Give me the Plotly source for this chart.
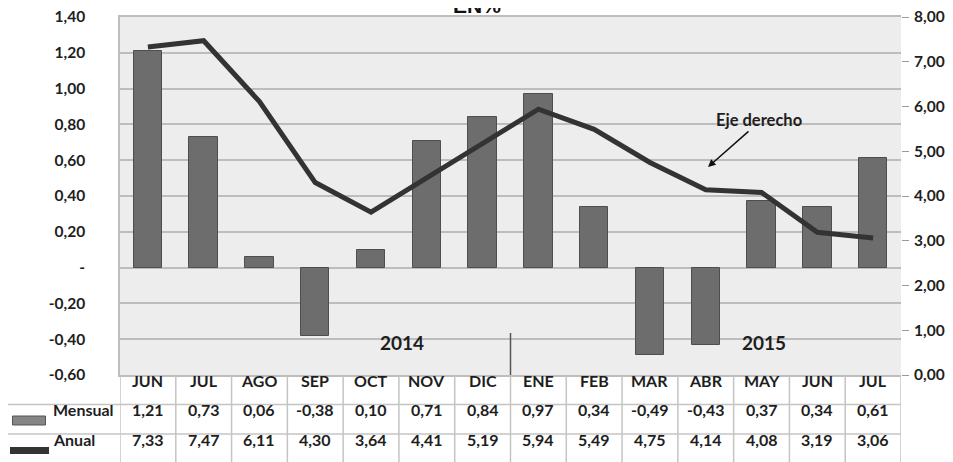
import plotly.graph_objects as go

# ---- data ----
months = ["JUN", "JUL", "AGO", "SEP", "OCT", "NOV", "DIC",
          "ENE", "FEB", "MAR", "ABR", "MAY", "JUN", "JUL"]
mensual = [1.21, 0.73, 0.06, -0.38, 0.10, 0.71, 0.84,
           0.97, 0.34, -0.49, -0.43, 0.37, 0.34, 0.61]
anual = [7.33, 7.47, 6.11, 4.30, 3.64, 4.41, 5.19,
         5.94, 5.49, 4.75, 4.14, 4.08, 3.19, 3.06]
years = ["2014", "2015"]
left_tickvals = [-0.6, -0.4, -0.2, 0.0, 0.2, 0.4, 0.6, 0.8, 1.0, 1.2, 1.4]
right_tickvals = [0, 1, 2, 3, 4, 5, 6, 7, 8]
series_names = ["Mensual", "Anual"]
title_text = "EN%"
note_text = "Eje derecho"


def fmt(v):
    return f"{v:.2f}".replace(".", ",")


left_ticktext = ["-" if v == 0 else fmt(v) for v in left_tickvals]
right_ticktext = [fmt(v) for v in right_tickvals]

# ---- geometry (screen pixels) ----
W, H = 953, 462
OFF = 8  # default page body margin
L, R, T, B = 120, 901, 17, 375


def px(x):
    return (x - L) / (R - L)


def py(y):
    return (B - y) / (B - T)


FONT = "Lato"
TXT = "#1e1e1e"
GRID = "#bdbdbd"
TBL = "#c4c4c4"

xs = list(range(len(months)))

fig = go.Figure()
fig.add_trace(go.Bar(
    x=xs, y=mensual, width=0.51, name=series_names[0],
    marker=dict(color="#6d6d6d", line=dict(color="#4e4e4e", width=1)),
    yaxis="y",
))
fig.add_trace(go.Scatter(
    x=xs, y=anual, mode="lines", name=series_names[1],
    line=dict(color="#333333", width=5), yaxis="y2",
))

tickfont = dict(family=FONT, size=15.5, color=TXT, weight=700)

fig.update_layout(
    width=W - OFF, height=H - OFF,
    margin=dict(l=L - OFF, r=W - R, t=T - OFF, b=H - B, pad=0, autoexpand=False),
    paper_bgcolor="white", plot_bgcolor="#ededed",
    showlegend=False, bargap=0,
    xaxis=dict(range=[-0.5, len(months) - 0.5], showticklabels=False,
               showgrid=False, zeroline=False, showline=True, automargin=False,
               linecolor=GRID, linewidth=1.5, mirror=True, ticks=""),
    yaxis=dict(range=[-0.6, 1.4], tickvals=left_tickvals, ticktext=left_ticktext,
               tickfont=tickfont, showgrid=True, gridcolor=GRID, gridwidth=1.5,
               zeroline=False, showline=True, linecolor=GRID, linewidth=1.5,
               ticks="", ticklabelstandoff=30, automargin=False,
               ticklabeloverflow="allow"),
    yaxis2=dict(range=[0, 8], tickvals=right_tickvals, ticktext=right_ticktext,
                tickfont=tickfont, overlaying="y", side="right", showgrid=False,
                zeroline=False, showline=False, ticks="outside", ticklen=7,
                tickcolor="#9a9a9a", tickwidth=1.2, ticklabelstandoff=2,
                automargin=False, ticklabeloverflow="allow"),
)

ann = []
shapes = []

# title (top partly cut off, as in the reference)
ann.append(dict(text=title_text, x=px(477), y=py(6), xref="paper", yref="paper",
                showarrow=False, xanchor="center", yanchor="middle",
                font=dict(family="Liberation Sans", size=21, color="#111", weight=700)))

# year labels
for yr, cx, cy in zip(years, [378, 788], [355.5, 356]):
    ann.append(dict(text=yr, x=px(cx), y=py(cy), xref="paper", yref="paper",
                    showarrow=False, font=dict(family=FONT, size=19, color=TXT, weight=700)))

# separator between years
shapes.append(dict(type="line", xref="x", yref="paper", x0=6.5, x1=6.5,
                   y0=py(333), y1=0, line=dict(color="#555", width=1.5)))

# annotation note with arrow
ann.append(dict(text=note_text, x=px(804), y=py(108), xref="paper", yref="paper",
                showarrow=False, font=dict(family=FONT, size=16.5, color=TXT, weight=700)))
ann.append(dict(text="", x=px(708), y=py(167), xref="paper", yref="paper",
                showarrow=True, ax=42, ay=-37, arrowhead=2, arrowsize=1,
                arrowwidth=1.5, arrowcolor="#111"))

# ---- data table ----
row_h = 391.5  # header center
row_m = 420.5
row_a = 450.5
cellfont = dict(family=FONT, size=16, color=TXT, weight=700)
for i, m in enumerate(months):
    ann.append(dict(text=m, x=i, y=py(row_h), xref="x", yref="paper",
                    showarrow=False, font=cellfont))
    ann.append(dict(text=fmt(mensual[i]), x=i, y=py(row_m), xref="x", yref="paper",
                    showarrow=False, font=cellfont))
    ann.append(dict(text=fmt(anual[i]), x=i, y=py(row_a), xref="x", yref="paper",
                    showarrow=False, font=cellfont))

# row labels
ann.append(dict(text=series_names[0], x=px(116), y=py(row_m), xref="paper", yref="paper",
                showarrow=False, xanchor="right", font=cellfont))
ann.append(dict(text=series_names[1], x=px(51), y=py(row_a), xref="paper", yref="paper",
                showarrow=False, xanchor="left", font=cellfont))

# legend keys
shapes.append(dict(type="rect", xref="paper", yref="paper",
                   x0=px(12.5), x1=px(45.5), y0=py(416), y1=py(425),
                   fillcolor="#858585", line=dict(color="#555", width=1)))
shapes.append(dict(type="line", xref="paper", yref="paper",
                   x0=px(10), x1=px(49), y0=py(450.5), y1=py(450.5),
                   line=dict(color="#333", width=7)))

# table grid lines
for k in range(len(months) + 1):
    shapes.append(dict(type="line", xref="x", yref="paper", x0=k - 0.5, x1=k - 0.5,
                       y0=0, y1=py(H + 2), line=dict(color=TBL, width=1.5)))
for yy in [404.5, 434]:
    shapes.append(dict(type="line", xref="paper", yref="paper", x0=px(7), x1=1,
                       y0=py(yy), y1=py(yy), line=dict(color=TBL, width=1.5)))
shapes.append(dict(type="line", xref="paper", yref="paper", x0=px(7), x1=px(7),
                   y0=py(404.5), y1=py(H + 2), line=dict(color=TBL, width=1.5)))

fig.update_layout(annotations=ann, shapes=shapes)

fig.write_html("out.html")
